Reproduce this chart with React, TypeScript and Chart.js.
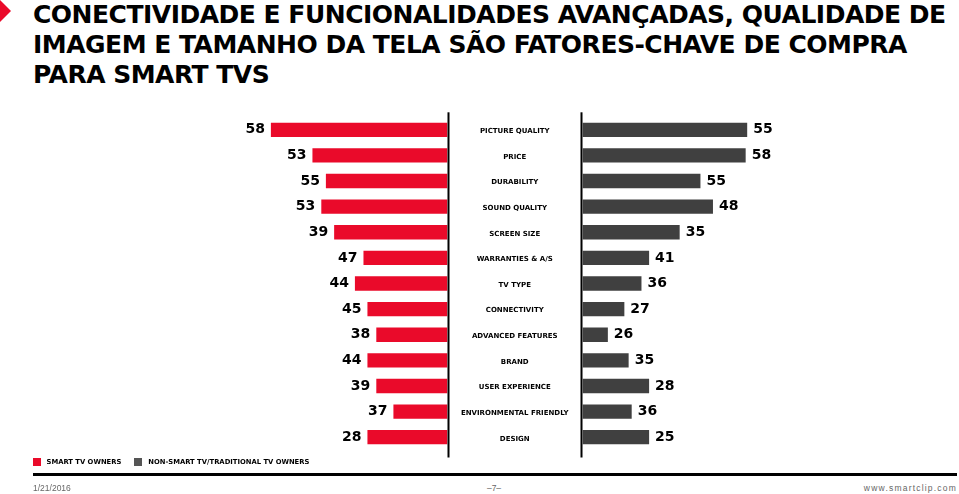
import React, { useEffect, useRef } from "react";
import { Chart, registerables } from "chart.js";

Chart.register(...registerables);

// ---- data ----
const categories = [
  "PICTURE QUALITY",
  "PRICE",
  "DURABILITY",
  "SOUND QUALITY",
  "SCREEN SIZE",
  "WARRANTIES & A/S",
  "TV TYPE",
  "CONNECTIVITY",
  "ADVANCED FEATURES",
  "BRAND",
  "USER EXPERIENCE",
  "ENVIRONMENTAL FRIENDLY",
  "DESIGN",
];
// printed value labels
const smartLabels = [58, 53, 55, 53, 39, 47, 44, 45, 38, 44, 39, 37, 28];
const nonSmartLabels = [55, 58, 55, 48, 35, 41, 36, 27, 26, 35, 28, 36, 25];
// bar lengths as drawn in the picture (common scale, first bar = 58)
const smartBars = [57.8, 44.2, 39.8, 41.3, 37.1, 27.5, 30.3, 26.2, 23.3, 26.2, 23.3, 17.7, 26.2];
const nonSmartBars = [53.9, 53.4, 38.6, 42.7, 31.8, 21.8, 19.3, 13.7, 8.3, 15.1, 21.8, 16.1, 21.8];
const axisMax = 81;
const seriesNames = ["SMART TV OWNERS", "NON-SMART TV/TRADITIONAL TV OWNERS"];

const RED = "#EA0A2A";
const DARK = "#404040";
const LEGEND_DARK = "#555555";
const FONT = "'DejaVu Sans', Verdana, sans-serif";

const leftPlugin = {
  id: "leftDecor",
  afterDatasetsDraw(chart: any) {
    const { ctx } = chart;
    const xs = chart.scales.x;
    const zero = xs.getPixelForValue(0);
    ctx.save();
    ctx.fillStyle = "#000";
    ctx.fillRect(zero, 2.3, 2, chart.height - 4.8);
    const meta = chart.getDatasetMeta(0);
    ctx.font = `bold 14px ${FONT}`;
    ctx.textAlign = "right";
    ctx.textBaseline = "middle";
    meta.data.forEach((bar: any, i: number) => {
      ctx.fillText(String(smartLabels[i]), bar.x - 6, bar.y);
    });
    ctx.restore();
  },
};

const rightPlugin = {
  id: "rightDecor",
  afterDatasetsDraw(chart: any) {
    const { ctx, chartArea } = chart;
    const xs = chart.scales.x;
    const zero = xs.getPixelForValue(0);
    ctx.save();
    ctx.fillStyle = "#000";
    ctx.fillRect(zero - 2, 2.3, 2, chart.height - 4.8);
    const meta = chart.getDatasetMeta(0);
    ctx.font = `bold 14px ${FONT}`;
    ctx.textAlign = "left";
    ctx.textBaseline = "middle";
    meta.data.forEach((bar: any, i: number) => {
      ctx.fillText(String(nonSmartLabels[i]), bar.x + 6, bar.y);
    });
    ctx.font = `bold 7px ${FONT}`;
    ctx.textAlign = "center";
    const cx = chartArea.left / 2 - 0.5;
    meta.data.forEach((bar: any, i: number) => {
      ctx.fillText(categories[i], cx, bar.y + 1.5);
    });
    ctx.restore();
  },
};

function baseOptions(reverse: boolean, padding: any) {
  return {
    indexAxis: "y" as const,
    animation: false as const,
    responsive: true,
    maintainAspectRatio: false,
    layout: { padding },
    scales: {
      x: { type: "linear" as const, min: 0, max: axisMax, reverse, display: false },
      y: { type: "category" as const, display: false },
    },
    plugins: { legend: { display: false }, tooltip: { enabled: false } },
  };
}

export default function App() {
  const leftRef = useRef<HTMLCanvasElement>(null);
  const rightRef = useRef<HTMLCanvasElement>(null);

  useEffect(() => {
    const left = new Chart(leftRef.current!, {
      type: "bar",
      data: {
        labels: categories,
        datasets: [
          {
            label: seriesNames[0],
            data: smartBars,
            backgroundColor: RED,
            barPercentage: 0.56,
            categoryPercentage: 1,
          },
        ],
      },
      options: baseOptions(true, { left: 0, right: 3.5, top: 7, bottom: 10 }) as any,
      plugins: [leftPlugin],
    });
    const right = new Chart(rightRef.current!, {
      type: "bar",
      data: {
        labels: categories,
        datasets: [
          {
            label: seriesNames[1],
            data: nonSmartBars,
            backgroundColor: DARK,
            barPercentage: 0.56,
            categoryPercentage: 1,
          },
        ],
      },
      options: baseOptions(false, { left: 134.5, right: 0, top: 7, bottom: 10 }) as any,
      plugins: [rightPlugin],
    });
    return () => {
      left.destroy();
      right.destroy();
    };
  }, []);

  return (
    <div
      style={{
        position: "fixed",
        left: 0,
        top: 0,
        width: 959,
        height: 494,
        background: "#fff",
        overflow: "hidden",
        fontFamily: FONT,
      }}
    >
      <div
        style={{
          position: "absolute",
          left: 0,
          top: 0,
          width: 11,
          height: 22,
          background: RED,
          clipPath: "polygon(0 0, 100% 50%, 0 100%)",
        }}
      />
      <div
        style={{
          position: "absolute",
          left: 33,
          top: 0,
          fontSize: 25,
          lineHeight: "30px",
          fontWeight: "bold",
          letterSpacing: "-0.5px",
          color: "#000",
          whiteSpace: "nowrap",
        }}
      >
        CONECTIVIDADE E FUNCIONALIDADES AVANÇADAS, QUALIDADE DE
        <br />
        IMAGEM E TAMANHO DA TELA SÃO FATORES-CHAVE DE COMPRA
        <br />
        PARA SMART TVS
      </div>

      <div style={{ position: "absolute", left: 200, top: 110, width: 251, height: 350 }}>
        <canvas ref={leftRef} />
      </div>
      <div style={{ position: "absolute", left: 448, top: 110, width: 382, height: 350 }}>
        <canvas ref={rightRef} />
      </div>

      {/* legend */}
      <div style={{ position: "absolute", left: 33, top: 458, width: 8, height: 8, background: RED }} />
      <div
        style={{
          position: "absolute",
          left: 46.5,
          top: 457,
          fontSize: 6.8,
          lineHeight: "10px",
          fontWeight: "bold",
          whiteSpace: "nowrap",
        }}
      >
        {seriesNames[0]}
      </div>
      <div style={{ position: "absolute", left: 133.5, top: 458, width: 8, height: 8, background: LEGEND_DARK }} />
      <div
        style={{
          position: "absolute",
          left: 148.3,
          top: 457,
          fontSize: 6.8,
          lineHeight: "10px",
          fontWeight: "bold",
          whiteSpace: "nowrap",
        }}
      >
        {seriesNames[1]}
      </div>

      {/* rule */}
      <div style={{ position: "absolute", left: 33, top: 472.5, width: 924, height: 3.5, background: "#000" }} />

      {/* footer */}
      <div
        style={{
          position: "absolute",
          left: 33,
          top: 482,
          fontFamily: "'Liberation Sans', Arial, sans-serif",
          fontSize: 8.5,
          lineHeight: "12px",
          color: "#666",
          whiteSpace: "nowrap",
        }}
      >
        1/21/2016
      </div>
      <div
        style={{
          position: "absolute",
          left: 484,
          width: 20,
          top: 482,
          textAlign: "center",
          fontFamily: "'Liberation Sans', Arial, sans-serif",
          fontSize: 8.5,
          lineHeight: "12px",
          color: "#666",
          whiteSpace: "nowrap",
        }}
      >
        –7–
      </div>
      <div
        style={{
          position: "absolute",
          right: 2,
          top: 482,
          fontFamily: "'Liberation Sans', Arial, sans-serif",
          fontSize: 8.5,
          lineHeight: "12px",
          letterSpacing: "1.2px",
          color: "#666",
          whiteSpace: "nowrap",
        }}
      >
        www.smartclip.com
      </div>
    </div>
  );
}
